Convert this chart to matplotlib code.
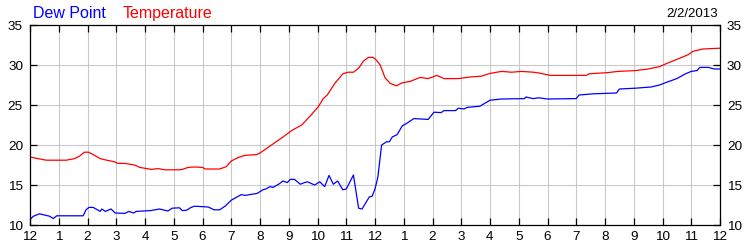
import matplotlib
matplotlib.use('Agg')
import matplotlib.pyplot as plt

# hours since midnight, 2/2/2013
temp_hours = [0.0, 0.27, 0.57, 1.26, 1.55, 1.72, 1.89, 2.03, 2.15, 2.44, 2.67, 2.94,
              3.05, 3.3, 3.64, 3.82, 4.22, 4.45, 4.7, 5.2, 5.3, 5.5, 5.73, 6.0, 6.1,
              6.6, 6.83, 7.0, 7.25, 7.47, 7.88, 8.0, 8.28, 8.52, 8.8, 9.1, 9.45, 9.74,
              10.03, 10.2, 10.34, 10.6, 10.88, 11.07, 11.25, 11.43, 11.6, 11.77, 11.94,
              12.05, 12.18, 12.35, 12.53, 12.75, 12.93, 13.22, 13.57, 13.85, 14.15,
              14.4, 14.9, 15.3, 15.7, 16.0, 16.4, 16.75, 17.1, 17.5, 17.7, 18.1, 19.35,
              19.45, 20.1, 20.45, 21.05, 21.5, 21.9, 22.15, 22.5, 22.9, 23.05, 23.4, 24.0]
temp_values = [18.5, 18.3, 18.1, 18.1, 18.3, 18.6, 19.1, 19.1, 18.9, 18.3, 18.1, 17.9,
               17.7, 17.7, 17.5, 17.2, 16.95, 17.05, 16.9, 16.9, 16.95, 17.2, 17.25, 17.2,
               17.0, 17.0, 17.3, 18.0, 18.45, 18.7, 18.8, 19.0, 19.7, 20.3, 21.0, 21.8,
               22.5, 23.6, 24.8, 25.8, 26.25, 27.7, 28.9, 29.1, 29.1, 29.6, 30.5, 30.95,
               30.95, 30.6, 30.0, 28.4, 27.7, 27.4, 27.75, 27.95, 28.45, 28.3, 28.7,
               28.3, 28.3, 28.5, 28.6, 28.95, 29.2, 29.1, 29.2, 29.1, 29.0, 28.7, 28.7,
               28.9, 29.05, 29.2, 29.3, 29.5, 29.8, 30.2, 30.7, 31.3, 31.7, 32.0, 32.1]

dew_hours = [0.0, 0.12, 0.33, 0.5, 0.68, 0.81, 0.93, 1.2, 1.85, 1.95, 2.05, 2.2, 2.44,
             2.5, 2.62, 2.82, 2.96, 3.3, 3.44, 3.6, 3.7, 4.2, 4.5, 4.8, 4.94, 5.2, 5.3,
             5.45, 5.6, 5.73, 6.2, 6.4, 6.6, 6.8, 7.0, 7.25, 7.35, 7.48, 7.65, 7.9, 8.1,
             8.2, 8.35, 8.45, 8.65, 8.8, 8.95, 9.05, 9.2, 9.4, 9.55, 9.65, 9.9, 10.08,
             10.25, 10.4, 10.55, 10.7, 10.88, 11.0, 11.25, 11.43, 11.55, 11.8, 11.9,
             12.0, 12.1, 12.23, 12.4, 12.5, 12.6, 12.77, 12.95, 13.1, 13.35, 13.85,
             14.05, 14.3, 14.4, 14.8, 14.9, 15.1, 15.2, 15.65, 16.0, 16.4, 17.2, 17.25,
             17.5, 17.7, 18.0, 19.0, 19.1, 19.6, 20.4, 20.5, 21.05, 21.6, 21.9, 22.15,
             22.5, 22.8, 23.0, 23.2, 23.3, 23.6, 23.8, 24.0]
dew_values = [10.7, 11.1, 11.4, 11.25, 11.1, 10.8, 11.15, 11.15, 11.15, 11.9, 12.2, 12.2,
              11.7, 12.0, 11.7, 12.0, 11.5, 11.45, 11.7, 11.5, 11.7, 11.8, 12.0, 11.75,
              12.1, 12.15, 11.8, 11.85, 12.2, 12.35, 12.25, 11.9, 11.9, 12.4, 13.1, 13.6,
              13.8, 13.7, 13.8, 13.95, 14.4, 14.5, 14.8, 14.7, 15.1, 15.5, 15.3, 15.7,
              15.7, 15.1, 15.3, 15.4, 15.0, 15.4, 14.8, 16.2, 15.1, 15.5, 14.4, 14.5,
              16.25, 12.1, 12.0, 13.5, 13.6, 14.5, 16.0, 20.0, 20.4, 20.4, 21.0, 21.3,
              22.4, 22.7, 23.3, 23.2, 24.1, 24.05, 24.3, 24.3, 24.6, 24.5, 24.7, 24.85,
              25.6, 25.75, 25.8, 26.0, 25.8, 25.9, 25.75, 25.8, 26.25, 26.4, 26.5, 27.0,
              27.1, 27.25, 27.5, 27.85, 28.3, 28.9, 29.2, 29.3, 29.7, 29.7, 29.5, 29.5]

hour_ticks = list(range(25))
hour_labels = ['12'] + [str(h) for h in range(1, 12)] + ['12'] + [str(h) for h in range(1, 12)] + ['12']
y_ticks = [10, 15, 20, 25, 30, 35]

plt.rcParams['font.family'] = ['Liberation Sans', 'DejaVu Sans']

fig = plt.figure(figsize=(7.5, 2.5), dpi=100)
ax = fig.add_axes([0.04, 0.1, 0.92, 0.8])

ax.plot(dew_hours, dew_values, color='#0000ff', linewidth=0.9)
ax.plot(temp_hours, temp_values, color='#ff0000', linewidth=0.9)

ax.set_xlim(0, 24)
ax.set_ylim(10, 35)
ax.set_xticks(hour_ticks)
ax.set_xticklabels(hour_labels)
ax.set_yticks(y_ticks)

ax.grid(True, color='#c8c8c8', linewidth=0.75)
ax.set_axisbelow(True)
for spine in ax.spines.values():
    spine.set_linewidth(0.9)
    spine.set_color('black')

ax.tick_params(direction='in', length=5, width=0.9, top=True, right=True,
               labelright=True, labelsize=9.7, colors='black')
ax.tick_params(axis='x', pad=4)
ax.tick_params(axis='y', pad=5)

fig.text(0.044, 0.927, 'Dew Point', color='#0000ff', fontsize=11.5, va='baseline')
fig.text(0.164, 0.927, 'Temperature', color='#ff0000', fontsize=11.5, va='baseline')
fig.text(0.957, 0.933, '2/2/2013', color='black', fontsize=9.5, ha='right', va='baseline')

fig.savefig('out.png', dpi=100)
